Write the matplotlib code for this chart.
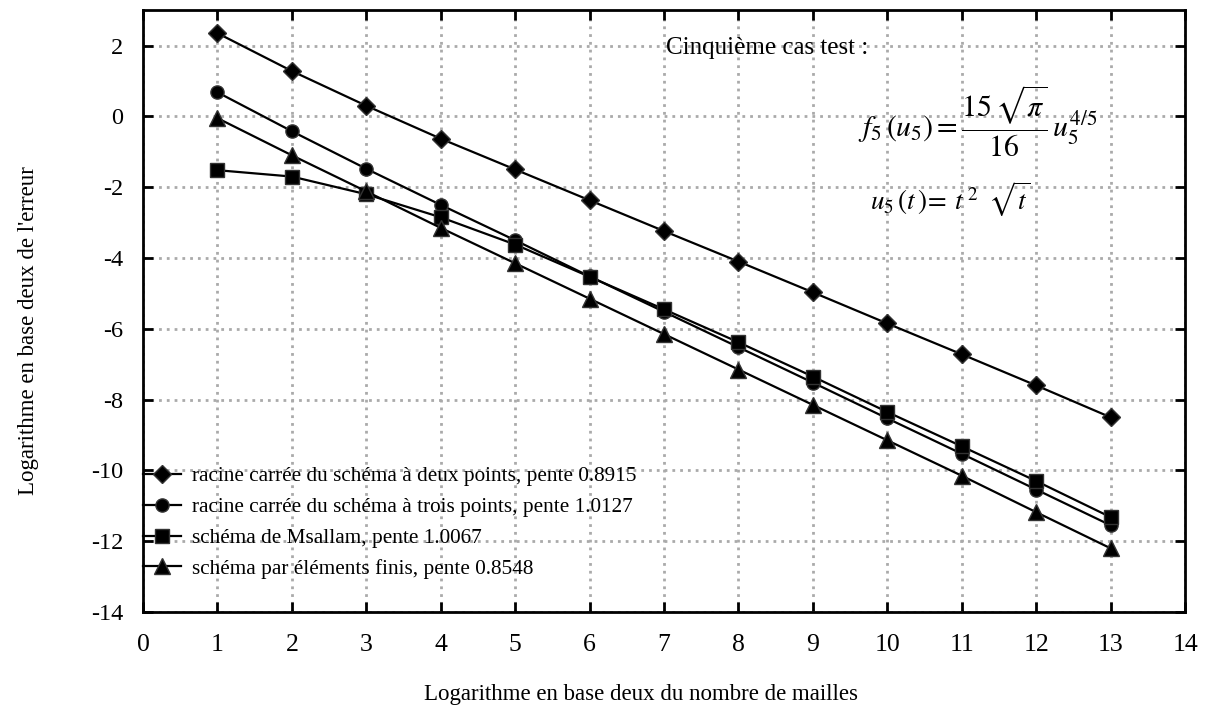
import matplotlib.pyplot as plt
import numpy as np

plt.rcParams['font.family'] = ['Liberation Serif', 'DejaVu Serif']
plt.rcParams['mathtext.fontset'] = 'stix'
plt.rcParams['axes.unicode_minus'] = False

# Data
mailles = [1, 2, 3, 4, 5, 6, 7, 8, 9, 10, 11, 12, 13]
deux_points = [2.35, 1.28, 0.30, -0.63, -1.50, -2.37, -3.24, -4.10, -4.97, -5.85, -6.72, -7.60, -8.50]
trois_points = [0.68, -0.42, -1.48, -2.50, -3.50, -4.52, -5.52, -6.52, -7.52, -8.53, -9.53, -10.54, -11.55]
msallam = [-1.52, -1.70, -2.20, -2.85, -3.62, -4.53, -5.45, -6.38, -7.35, -8.35, -9.32, -10.30, -11.32]
elements_finis = [-0.05, -1.10, -2.12, -3.15, -4.15, -5.15, -6.15, -7.15, -8.15, -9.15, -10.15, -11.18, -12.20]

labels = ["racine carrée du schéma à deux points, pente 0.8915",
          "racine carrée du schéma à trois points, pente 1.0127",
          "schéma de Msallam, pente 1.0067",
          "schéma par éléments finis, pente 0.8548"]

fig = plt.figure(figsize=(12.08, 7.06), dpi=100)
ax = fig.add_axes([0.1184, 0.1331, 0.8626, 0.8525])

series = [(deux_points, 'D', 9), (trois_points, 'o', 9.5), (msallam, 's', 10.5), (elements_finis, '^', 11.5)]
for (vals, m, ms), lab in zip(series, labels):
    ax.plot(mailles, vals, color='black', lw=1.6, marker=m, markersize=ms,
            markerfacecolor='black', markeredgecolor='#333333', markeredgewidth=1.0,
            label=lab, zorder=3)

ax.set_xlim(0, 14)
ax.set_ylim(-14, 3)
ax.set_xticks(range(0, 15))
ax.set_yticks(range(-14, 3, 2))
ax.grid(True, color='#aaaaaa', linestyle=(0, (1, 1.8)), linewidth=2)
ax.tick_params(direction='in', length=7, width=2, top=True, right=True)
ax.tick_params(axis='x', pad=16, labelsize=18.5)
ax.tick_params(axis='y', pad=14, labelsize=17.5)
for s in ax.spines.values():
    s.set_linewidth(2)

ax.set_xlabel("Logarithme en base deux du nombre de mailles", fontsize=16.5)
ax.set_ylabel("Logarithme en base deux de l'erreur", fontsize=16.5)
ax.xaxis.set_label_coords(0.478, -0.119)
ax.yaxis.set_label_coords(-0.1, 0.467)

ax.text(7.02, 1.94, "Cinquième cas test :", fontsize=18, va='center')
ax.text(9.6, -0.15, r'$f_5\,(u_5) = \dfrac{15\,\sqrt{\pi}}{16}\,u_5^{4/5}$', fontsize=21.5, va='center')
ax.text(9.77, -2.35, r'$u_5\,(t\,)\!= \;t^{\,2}\;\;\sqrt{t}$', fontsize=19.5, va='center')

ax.legend(loc='lower left', bbox_to_anchor=(0.0, 0.055), frameon=False, fontsize=15.3,
          handlelength=1.8, handletextpad=0.5, borderpad=0, borderaxespad=0, labelspacing=0.52)

plt.savefig("out.png", dpi=100)
plt.close()
